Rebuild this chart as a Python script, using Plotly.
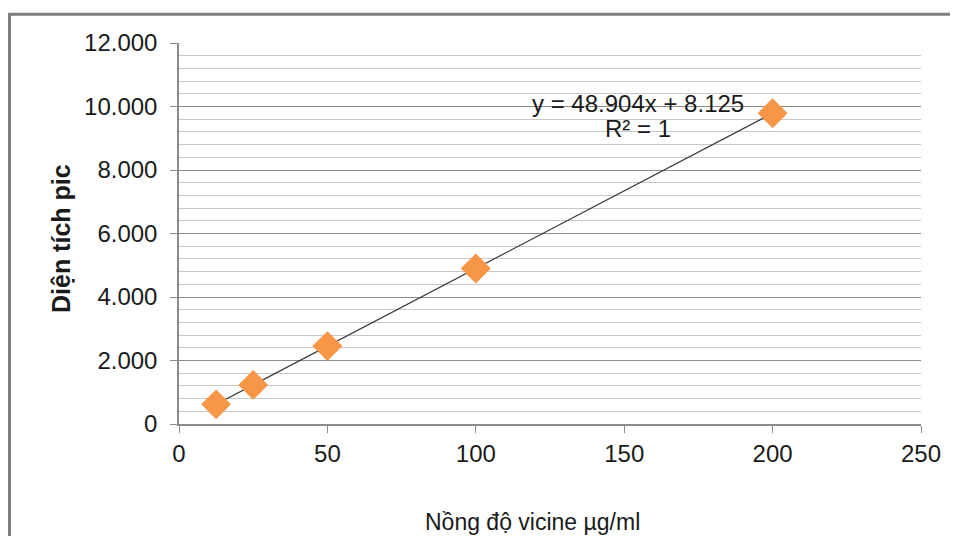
import plotly.graph_objects as go

conc = [12.5, 25, 50, 100, 200]
area = [619, 1231, 2453, 4899, 9789]
slope = 48.904
intercept = 8.125
trend_x = [12.5, 200]
trend_y = [slope * x + intercept for x in trend_x]

y_tickvals = [0, 2000, 4000, 6000, 8000, 10000, 12000]
y_ticktext = ["0", "2.000", "4.000", "6.000", "8.000", "10.000", "12.000"]
x_tickvals = [0, 50, 100, 150, 200, 250]

eq_text = "y = 48.904x + 8.125"
r2_text = "R² = 1"
x_title = "Nồng độ vicine µg/ml"
y_title = "Diện tích pic"

font_family = "Liberation Sans, Arial, sans-serif"
txt = "#1a1a1a"

fig = go.Figure()
fig.add_trace(go.Scatter(x=trend_x, y=trend_y, mode="lines",
                         line=dict(color="#3a3a3a", width=1.2), hoverinfo="skip", showlegend=False))
fig.add_trace(go.Scatter(x=conc, y=area, mode="markers",
                         marker=dict(symbol="diamond", size=23, color="#F79646",
                                     line=dict(width=0)), showlegend=False))

fig.add_annotation(x=0.6186, y=0.8425, xref="paper", yref="paper", xanchor="center", yanchor="middle",
                   text=eq_text, showarrow=False, font=dict(family=font_family, size=24, color=txt))
fig.add_annotation(x=0.6186, y=0.7769, xref="paper", yref="paper", xanchor="center", yanchor="middle",
                   text=r2_text, showarrow=False, font=dict(family=font_family, size=24, color=txt))
fig.add_annotation(x=0.477, y=-0.257, xref="paper", yref="paper", xanchor="center", yanchor="middle",
                   text=x_title, showarrow=False, font=dict(family=font_family, size=23, color=txt))
fig.add_annotation(x=-0.159, y=0.4856, xref="paper", yref="paper", xanchor="center", yanchor="middle",
                   text="<b>" + y_title + "</b>", textangle=-90, showarrow=False,
                   font=dict(family=font_family, size=25, color=txt))

fig.update_layout(
    width=950, height=528,
    margin=dict(l=171, r=37, t=35, b=112),
    paper_bgcolor="white", plot_bgcolor="white",
    font=dict(family=font_family, size=24, color=txt),
    xaxis=dict(range=[0, 250], tickvals=x_tickvals, showgrid=False, zeroline=False,
               showline=True, linecolor="#8c8c8c", linewidth=1.5,
               ticks="outside", ticklen=7, tickcolor="#8c8c8c", automargin=False),
    yaxis=dict(range=[0, 12000], tickvals=y_tickvals, ticktext=y_ticktext,
               showgrid=True, gridcolor="#8c8c8c", gridwidth=1.2, zeroline=False,
               showline=True, linecolor="#8c8c8c", linewidth=1.5,
               ticks="outside", ticklen=7, tickcolor="#8c8c8c", automargin=False,
               ticklabelstandoff=8,
               minor=dict(dtick=400, showgrid=True, gridcolor="#c8c8c8", gridwidth=1.2)),
)

fig.add_shape(type="rect", xref="paper", yref="paper",
              x0=-0.2284, y0=-0.4, x1=1.2, y1=1.0756,
              line=dict(color="#7f7f7f", width=3), layer="below")

fig.write_html("out.html")
